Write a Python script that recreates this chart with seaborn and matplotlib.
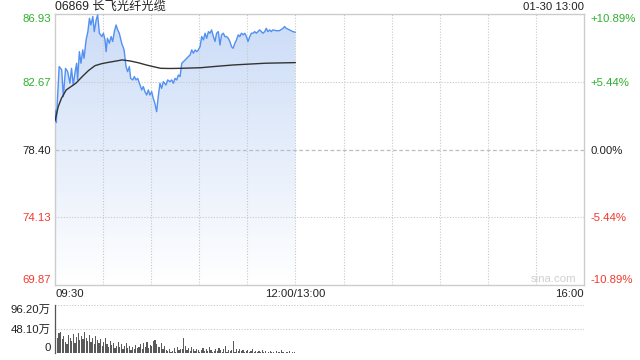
import numpy as np
import pandas as pd
import matplotlib
matplotlib.use("Agg")
import matplotlib.pyplot as plt
import seaborn as sns

sns.set_theme(style="white")
plt.rcParams['font.family'] = ['Liberation Sans', 'Noto Sans CJK SC', 'DejaVu Sans']

# ---------------- data ----------------
title = "06869 长飞光纤光缆"
stamp = "01-30 13:00"
prev_close = 78.40
y_ticks = [69.87, 74.13, 78.40, 82.67, 86.93]
y_labels = ["69.87", "74.13", "78.40", "82.67", "86.93"]
pct_labels = ["-10.89%", "-5.44%", "0.00%", "+5.44%", "+10.89%"]
x_tick_pos = [0, 150, 330]
x_tick_labels = ["09:30", "12:00/13:00", "16:00"]

# minutes since 09:30 (12:00 == minute 150, then 13:00-16:00 continue to 330)
t_price = [0, 0.8, 1.5, 2.6, 4.2, 5.2, 6.6, 7.9, 9.3, 10.3, 11.4, 12.4, 13.5, 14.1,
           15.2, 16.2, 17.3, 18.1, 19.4, 20.5, 21.5, 22.4, 23.6, 24.5, 25.7, 26.6,
           27.7, 29.2, 30.2, 31.2, 31.9, 32.7, 33.9, 35.0, 36.0, 37.0, 38.1, 39.1,
           40.1, 41.6, 43.1, 44.3, 45.3, 46.4, 47.2, 48.5, 49.5, 50.5, 51.6, 53.0,
           54.1, 55.1, 56.1, 57.2, 58.2, 59.2, 60.3, 61.3, 62.3, 63.4, 64.4, 65.5,
           66.5, 67.6, 69.2, 70.3, 71.7, 72.8, 73.8, 74.9, 75.9, 77.0, 78.0, 79.1,
           80.1, 81.2, 82.2, 83.2, 84.3, 85.3, 86.3, 87.4, 88.4, 89.4, 90.5, 91.5,
           92.6, 93.6, 94.6, 95.7, 96.7, 97.7, 98.8, 99.8, 100.8, 101.9, 102.9,
           103.9, 105.0, 106.0, 107.0, 108.1, 109.1, 110.1, 111.1, 112.2, 113.2,
           114.3, 115.3, 116.3, 117.4, 118.4, 119.4, 120.4, 121.5, 122.5, 123.5,
           124.6, 125.6, 126.6, 127.7, 128.7, 129.7, 130.8, 131.8, 132.8, 133.9,
           134.9, 135.9, 138.0, 140.0, 142.2, 143.2, 144.2, 146.3, 148.4, 150.0]
price = [80.89, 80.09, 81.52, 83.62, 83.41, 81.73, 83.51, 83.30, 82.57, 83.51, 82.46,
         83.20, 83.83, 82.78, 84.56, 83.83, 84.67, 84.14, 85.30, 85.82, 86.66, 86.24,
         86.77, 85.82, 86.56, 86.87, 85.72, 85.51, 85.72, 85.30, 84.56, 85.40, 85.09,
         85.51, 85.20, 85.82, 86.24, 85.93, 85.72, 85.09, 84.67, 83.62, 83.30, 83.62,
         82.88, 82.78, 82.99, 82.78, 82.88, 82.46, 82.15, 82.36, 82.04, 81.83, 82.15,
         81.83, 82.04, 81.62, 81.31, 80.78, 81.73, 82.57, 82.25, 82.67, 82.46, 82.78,
         82.67, 82.78, 82.57, 82.88, 82.78, 83.09, 82.99, 83.83, 83.93, 84.04, 84.14,
         84.25, 84.35, 84.67, 84.46, 84.67, 84.56, 84.67, 84.88, 85.51, 85.30, 85.72,
         85.40, 85.82, 85.72, 85.93, 85.51, 85.20, 85.72, 85.82, 84.98, 85.62, 85.72,
         85.51, 85.51, 85.40, 85.20, 84.88, 84.77, 85.09, 85.30, 85.62, 85.51, 85.72,
         85.62, 85.72, 85.51, 85.20, 85.51, 85.72, 85.72, 85.82, 85.72, 85.82, 85.93,
         85.82, 85.72, 85.82, 86.03, 85.82, 85.93, 85.82, 85.93, 85.88, 85.88, 86.03,
         86.14, 86.03, 85.93, 85.82, 85.78]

t_avg = [0, 2, 4, 7, 10, 13, 17, 21, 25, 29, 33, 37, 42, 47, 52, 57, 62, 66, 72,
         78, 85, 91, 100, 111, 120, 131, 140, 150]
avg_price = [80.20, 81.09, 81.62, 82.15, 82.36, 82.57, 82.99, 83.38, 83.68, 83.80,
             83.88, 83.95, 84.04, 83.97, 83.86, 83.72, 83.60, 83.51, 83.50, 83.51,
             83.53, 83.55, 83.63, 83.72, 83.77, 83.83, 83.85, 83.87]

vol_max = 96.20
vol_ticks = [0, 48.10, 96.20]
vol_labels = ["0", "48.10万", "96.20万"]
volume = [38, 30, 40, 42, 28, 35, 22, 18, 36, 30,
          24, 38, 20, 33, 40, 26, 35, 28, 42, 30,
          25, 36, 22, 30, 18, 34, 26, 20, 28, 15,
          22, 30, 18, 12, 25, 16, 20, 10, 14, 22,
          12, 18, 8, 15, 20, 10, 14, 6, 12, 9,
          16, 10, 13, 18, 8, 20, 12, 22, 10, 16,
          14, 24, 26, 18, 12, 12, 20, 9, 14, 6,
          4, 8, 3, 5, 10, 2, 12, 6, 9, 9,
          30, 14, 6, 10, 5, 12, 8, 4, 9, 6,
          3, 7, 10, 5, 8, 4, 12, 6, 3, 5,
          8, 4, 10, 6, 3, 9, 14, 2, 7, 4,
          6, 24, 3, 8, 5, 9, 4, 7, 3, 5,
          6, 2, 4, 8, 3, 5, 2, 4, 3, 6,
          2, 4, 1, 3, 5, 2, 3, 1, 4, 2,
          3, 6, 2, 1, 3, 2, 4, 1, 2, 3]
t_vol = list(range(len(volume)))

# ---------------- style ----------------
GREEN = "#2fb02f"
RED = "#f03a2e"
BLACK = "#222222"
LINE = "#5290f2"
GRID = "#c8c8c8"
SPINE = "#cccccc"
FS = 8.2

fig = plt.figure(figsize=(6.4, 3.6), dpi=100)
ax = fig.add_axes([55/640, 1-285/360, 529/640, 271/360])
axv = fig.add_axes([55/640, 1-353/360, 529/640, 48/360])

ymin, ymax = y_ticks[0], y_ticks[-1]
ax.set_xlim(0, 330)
ax.set_ylim(ymin, ymax)

# gradient fill under price
grad = np.linspace(0, 1, 256).reshape(-1, 1)
top = np.array([203, 220, 247]) / 255
bot = np.array([255, 255, 255]) / 255
img = top[None, None, :] * (1 - grad[:, :, None]) + bot[None, None, :] * grad[:, :, None]
im = ax.imshow(img, extent=[0, 330, ymin, ymax], aspect='auto', origin='upper', zorder=1)
poly = ax.fill_between(t_price, price, ymin, color='none', lw=0)
path = poly.get_paths()[0]
im.set_clip_path(path, transform=ax.transData)

# gridlines
for xv in range(30, 330, 30):
    ax.axvline(xv, color=GRID, lw=0.8, ls=(0, (1, 1.5)), zorder=1.5)
for yv in [74.13, 82.67]:
    ax.axhline(yv, color=GRID, lw=0.8, ls=(0, (1, 1.5)), zorder=1.5)
ax.axhline(prev_close, color="#bdbdbd", lw=0.9, ls=(0, (3, 2)), zorder=1.5)

df_p = pd.DataFrame({"t": t_price, "p": price})
df_a = pd.DataFrame({"t": t_avg, "p": avg_price})
sns.lineplot(data=df_p, x="t", y="p", ax=ax, color=LINE, lw=1.0, zorder=3)
sns.lineplot(data=df_a, x="t", y="p", ax=ax, color="#333333", lw=1.0, zorder=3)
ax.set_xlim(0, 330)
ax.set_ylim(ymin, ymax)
ax.set_xlabel("")
ax.set_ylabel("")

for s in ax.spines.values():
    s.set_color(SPINE)
    s.set_linewidth(1.0)

ax.set_yticks(y_ticks)
ax.set_yticklabels(y_labels)
ax.tick_params(axis='y', length=0, pad=3, labelsize=FS)
colors_l = [RED, RED, BLACK, GREEN, GREEN]
for lab, c in zip(ax.get_yticklabels(), colors_l):
    lab.set_color(c)
ylabs = ax.get_yticklabels()
ylabs[0].set_va('bottom')
ylabs[-1].set_va('top')

ax.set_xticks(x_tick_pos)
ax.set_xticklabels(x_tick_labels)
ax.tick_params(axis='x', length=0, pad=3, labelsize=FS, labelcolor=BLACK)
xl = ax.get_xticklabels()
xl[0].set_ha('left')
xl[-1].set_ha('right')

ax2 = ax.twinx()
ax2.set_ylim(ymin, ymax)
ax2.set_yticks(y_ticks)
ax2.set_yticklabels(pct_labels)
ax2.tick_params(axis='y', length=0, pad=5, labelsize=FS)
for lab, c in zip(ax2.get_yticklabels(), colors_l):
    lab.set_color(c)
r = ax2.get_yticklabels()
r[0].set_va('bottom')
r[-1].set_va('top')
for s in ax2.spines.values():
    s.set_visible(False)
ax2.grid(False)

fig.text(55/640, 1-7/360, title, fontsize=8.8, color=BLACK, ha='left', va='center',
         family=['Liberation Sans', 'Noto Sans CJK SC'])
fig.text(584/640, 1-7/360, stamp, fontsize=FS, color=BLACK, ha='right', va='center')
ax.text(0.985, 0.005, "sina.com", transform=ax.transAxes, ha='right', va='bottom',
        fontsize=FS, color="#d0d0d0")

# volume panel
df_v = pd.DataFrame({"t": t_vol, "v": volume})
sns.barplot(data=df_v, x="t", y="v", ax=axv, native_scale=True, color="#5a5a5a",
            width=0.75, saturation=1, edgecolor='none', linewidth=0, zorder=3)
axv.set_xlim(-0.5, 330)
axv.set_ylim(0, vol_max)
axv.set_xlabel("")
axv.set_ylabel("")
axv.set_xticks([])
for yv in [48.10, 96.20]:
    axv.axhline(yv, color=GRID, lw=0.8, ls=(0, (1, 1.5)), zorder=1)
for k, s in axv.spines.items():
    s.set_visible(k == 'left')
axv.spines['left'].set_color("#555555")
axv.spines['left'].set_linewidth(0.9)
axv.set_yticks(vol_ticks)
axv.set_yticklabels(vol_labels, family=['Liberation Sans', 'Noto Sans CJK SC'])
axv.tick_params(axis='y', length=0, pad=3, labelsize=FS, labelcolor=BLACK)
vl = axv.get_yticklabels()
vl[0].set_va('bottom')
vl[-1].set_va('top')

fig.savefig("out.png", dpi=100)
